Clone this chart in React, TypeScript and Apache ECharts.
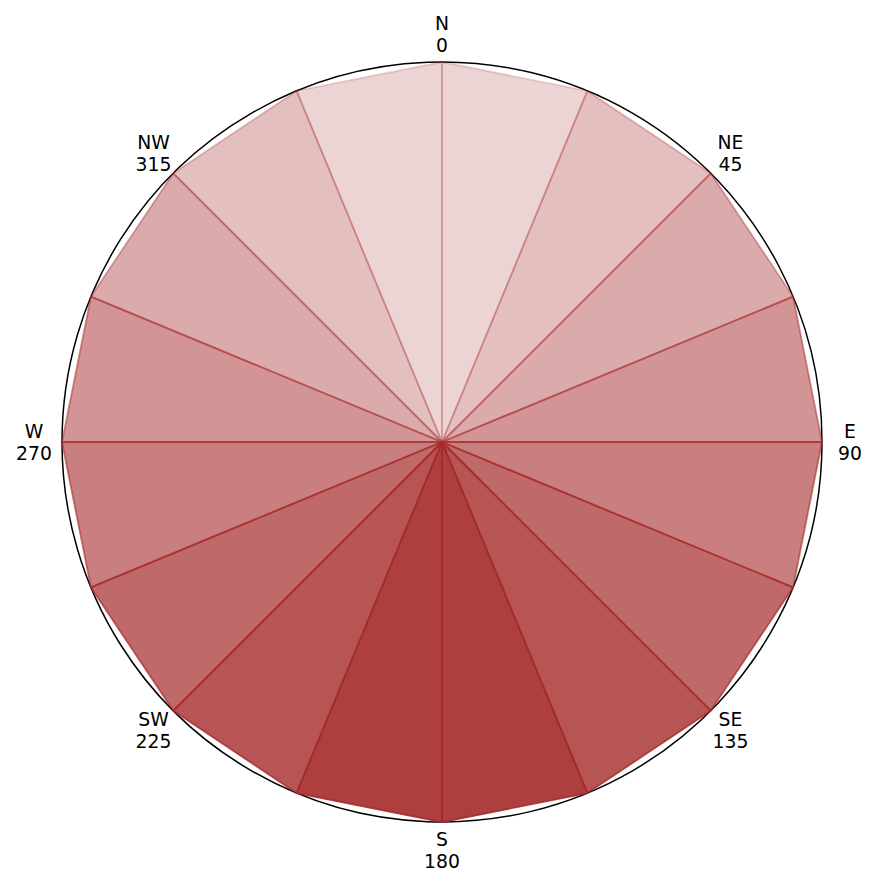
import React, { useEffect, useRef } from "react";
import * as echarts from "echarts";

// wedge start angles (degrees, clockwise from north), all wedges 22.5 wide
const sectorStarts = [
  0, 22.5, 45, 67.5, 90, 112.5, 135, 157.5, 180, 202.5, 225, 247.5, 270, 292.5,
  315, 337.5,
];
const sectorRadii = [1, 1, 1, 1, 1, 1, 1, 1, 1, 1, 1, 1, 1, 1, 1, 1];
const sectorShades = [
  0.2, 0.3, 0.4, 0.5, 0.6, 0.7, 0.8, 0.9, 0.9, 0.8, 0.7, 0.6, 0.5, 0.4, 0.3, 0.2,
];
const SECTOR_SPAN = 22.5;

const compassNames = ["N", "NE", "E", "SE", "S", "SW", "W", "NW"];
const compassAngles = [0, 45, 90, 135, 180, 225, 270, 315];

const LABEL_GAP = 28;

const App: React.FC = () => {
  const chartRef = useRef<HTMLDivElement>(null);

  useEffect(() => {
    if (!chartRef.current) return;
    const chart = echarts.init(chartRef.current, undefined, { renderer: "svg" });

    const wedgeData = sectorStarts.map((a, i) => [
      sectorRadii[i],
      a,
      a + SECTOR_SPAN,
      sectorShades[i],
    ]);
    const labelData = compassAngles.map((a, i) => [1, a, i]);

    const option = {
      animation: false,
      polar: { center: [442, 442], radius: 380 },
      angleAxis: {
        type: "value",
        min: 0,
        max: 360,
        interval: 45,
        startAngle: 90,
        clockwise: true,
        axisLine: { show: true, lineStyle: { color: "#000", width: 1.5 } },
        axisTick: { show: false },
        axisLabel: { show: false },
        splitLine: { show: false },
      },
      radiusAxis: {
        type: "value",
        min: 0,
        max: 1,
        axisLine: { show: false },
        axisTick: { show: false },
        axisLabel: { show: false },
        splitLine: { show: false },
      },
      series: [
        {
          type: "custom",
          coordinateSystem: "polar",
          data: wedgeData,
          renderItem: (params: any, api: any) => {
            const r = api.value(0);
            const a0 = api.value(1);
            const a1 = api.value(2);
            const shade = api.value(3);
            const c = api.coord([0, a0]);
            const p0 = api.coord([r, a0]);
            const p1 = api.coord([r, a1]);
            const color = `rgba(165,42,42,${shade})`;
            return {
              type: "polygon",
              shape: { points: [c, p0, p1] },
              style: {
                fill: color,
                stroke: color,
                lineWidth: 1.8,
                lineJoin: "round",
              },
            };
          },
        },
        {
          type: "custom",
          coordinateSystem: "polar",
          data: labelData,
          renderItem: (params: any, api: any) => {
            const a = api.value(1);
            const idx = api.value(2);
            const c = api.coord([0, a]);
            const p = api.coord([api.value(0), a]);
            const dx = p[0] - c[0];
            const dy = p[1] - c[1];
            const len = Math.hypot(dx, dy) || 1;
            return {
              type: "text",
              x: p[0] + (dx / len) * LABEL_GAP,
              y: p[1] + (dy / len) * LABEL_GAP,
              style: {
                text: `${compassNames[idx]}\n${compassAngles[idx]}`,
                align: "center",
                verticalAlign: "middle",
                fontSize: 18.8,
                lineHeight: 22,
                fontFamily: "DejaVu Sans",
                fill: "#000",
              },
            };
          },
        },
      ],
    };

    chart.setOption(option);

    return () => {
      chart.dispose();
    };
  }, []);

  return (
    <div
      ref={chartRef}
      style={{ position: "absolute", left: 0, top: 0, width: 877, height: 886 }}
    />
  );
};

export default App;
